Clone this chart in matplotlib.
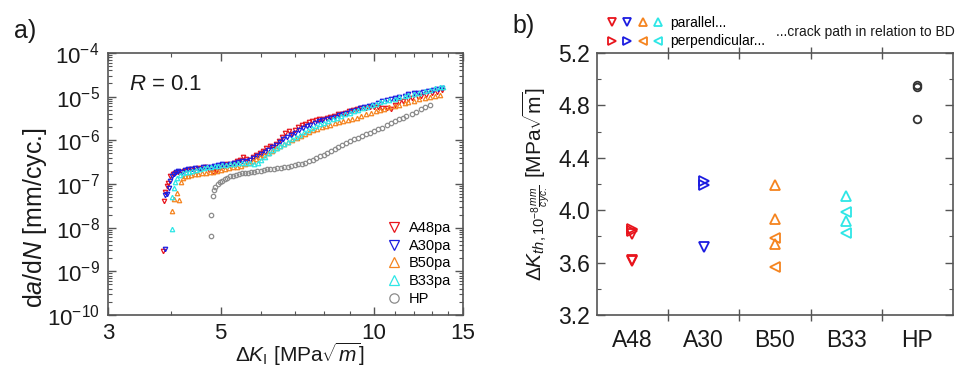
import numpy as np
import matplotlib
matplotlib.use("Agg")
from matplotlib import pyplot as plt
from matplotlib.lines import Line2D
from matplotlib.legend_handler import HandlerTuple
from matplotlib.ticker import FixedLocator, NullFormatter, FixedFormatter, LogLocator

plt.rcParams['font.family'] = ['Liberation Sans', 'DejaVu Sans']
plt.rcParams['mathtext.fontset'] = 'custom'
plt.rcParams['mathtext.rm'] = 'Liberation Sans'
plt.rcParams['mathtext.it'] = 'Liberation Sans:italic'
plt.rcParams['mathtext.bf'] = 'Liberation Sans:bold'

# ---- panel a: da/dN vs dK ----
a48_dk = [3.85, 3.86, 3.89, 3.92, 3.94, 3.98, 4.02, 4.07, 4.12, 4.18, 4.24, 4.30, 4.37, 4.44,
          4.51, 4.58, 4.66, 4.74, 4.82, 4.90, 4.98, 5.06, 5.14, 5.22, 5.30, 5.38, 5.46, 5.54,
          5.62, 5.70, 5.79, 5.88, 5.97, 6.06, 6.15, 6.24, 6.33, 6.42, 6.51, 6.60, 6.70, 6.80,
          6.90, 7.00, 7.11, 7.22, 7.33, 7.45, 7.57, 7.69, 7.82, 7.95, 8.08, 8.22, 8.36, 8.50,
          8.65, 8.80, 8.96, 9.12, 9.29, 9.46, 9.64, 9.82, 10.0, 10.2, 10.4, 10.6, 10.8, 11.0,
          11.2, 11.4, 11.7, 11.9, 12.2, 12.4, 12.7, 13.0, 13.3, 13.6]
a48_dadn = [2.9e-9, 4.0e-8, 6.5e-8, 9.0e-8, 1.05e-7, 1.5e-7, 1.7e-7, 1.8e-7, 1.9e-7, 1.85e-7,
            2.0e-7, 2.1e-7, 2.2e-7, 2.1e-7, 2.3e-7, 2.2e-7, 2.4e-7, 2.1e-7, 1.9e-7, 2.0e-7,
            2.3e-7, 2.6e-7, 2.8e-7, 2.7e-7, 3.0e-7, 3.3e-7, 3.6e-7, 4.1e-7, 3.8e-7, 3.5e-7,
            4.2e-7, 4.6e-7, 5.0e-7, 5.8e-7, 6.5e-7, 7.3e-7, 7.0e-7, 8.2e-7, 9.5e-7, 1.2e-6,
            1.5e-6, 1.6e-6, 1.4e-6, 1.7e-6, 2.0e-6, 2.2e-6, 2.4e-6, 2.6e-6, 2.7e-6, 2.9e-6,
            3.0e-6, 3.1e-6, 3.3e-6, 3.4e-6, 3.6e-6, 3.9e-6, 4.1e-6, 4.3e-6, 4.6e-6, 4.9e-6,
            5.2e-6, 5.4e-6, 5.6e-6, 5.8e-6, 5.8e-6, 5.9e-6, 5.6e-6, 5.4e-6, 5.2e-6, 6.6e-6,
            7.4e-6, 8.0e-6, 8.6e-6, 9.1e-6, 9.7e-6, 1.03e-5, 1.1e-5, 1.2e-5, 1.3e-5, 1.4e-5]

a30_dk = [3.88, 3.89, 3.92, 3.95, 3.98, 4.01, 4.05, 4.09, 4.13, 4.19, 4.25, 4.32, 4.39, 4.46,
          4.54, 4.62, 4.70, 4.78, 4.86, 4.95, 5.04, 5.13, 5.22, 5.31, 5.40, 5.50, 5.60, 5.70,
          5.80, 5.90, 6.00, 6.10, 6.20, 6.31, 6.42, 6.53, 6.64, 6.76, 6.88, 7.00, 7.12, 7.25,
          7.38, 7.51, 7.65, 7.79, 7.93, 8.08, 8.23, 8.38, 8.54, 8.70, 8.87, 9.04, 9.21, 9.39,
          9.58, 9.77, 9.96, 10.2, 10.4, 10.6, 10.8, 11.0, 11.2, 11.5, 11.7, 12.0, 12.2, 12.5,
          12.8, 13.1, 13.4, 13.6]
a30_dadn = [3.2e-9, 5.5e-8, 5.8e-8, 8.0e-8, 1.2e-7, 1.5e-7, 1.7e-7, 1.9e-7, 2.0e-7, 1.9e-7,
            2.05e-7, 2.15e-7, 2.2e-7, 2.3e-7, 2.25e-7, 2.4e-7, 2.5e-7, 2.45e-7, 2.6e-7, 2.7e-7,
            2.8e-7, 2.75e-7, 2.9e-7, 3.1e-7, 3.2e-7, 3.3e-7, 3.4e-7, 3.6e-7, 3.9e-7, 4.3e-7,
            4.8e-7, 5.4e-7, 6.1e-7, 7.0e-7, 8.0e-7, 9.2e-7, 1.05e-6, 1.2e-6, 1.35e-6, 1.5e-6,
            1.7e-6, 1.9e-6, 2.1e-6, 2.3e-6, 2.5e-6, 2.7e-6, 2.9e-6, 3.1e-6, 3.3e-6, 3.5e-6,
            3.7e-6, 4.0e-6, 4.3e-6, 4.6e-6, 5.0e-6, 5.4e-6, 5.9e-6, 6.2e-6, 6.6e-6, 7.2e-6,
            7.8e-6, 8.3e-6, 8.7e-6, 9.1e-6, 9.6e-6, 1.05e-5, 1.12e-5, 1.2e-5, 1.24e-5, 1.3e-5,
            1.36e-5, 1.42e-5, 1.5e-5, 1.58e-5]

b50_dk = [4.01, 4.05, 4.10, 4.14, 4.17, 4.21, 4.26, 4.32, 4.38, 4.45, 4.52, 4.60, 4.68, 4.76,
          4.84, 4.92, 5.01, 5.10, 5.19, 5.28, 5.38, 5.48, 5.58, 5.68, 5.78, 5.88, 5.98, 6.09,
          6.20, 6.31, 6.43, 6.55, 6.67, 6.79, 6.92, 7.05, 7.18, 7.32, 7.46, 7.60, 7.75, 7.90,
          8.06, 8.22, 8.38, 8.55, 8.72, 8.90, 9.08, 9.27, 9.46, 9.66, 9.86, 10.1, 10.3, 10.5,
          10.7, 11.0, 11.2, 11.5, 11.7, 12.0, 12.3, 12.6, 12.9, 13.2, 13.5]
b50_dadn = [2.4e-8, 4.5e-8, 6.3e-8, 4.4e-8, 1.1e-7, 1.4e-7, 1.5e-7, 1.55e-7, 1.6e-7, 1.65e-7,
            1.7e-7, 1.75e-7, 1.8e-7, 1.85e-7, 1.9e-7, 2.0e-7, 2.1e-7, 2.2e-7, 2.3e-7, 2.4e-7,
            2.5e-7, 2.6e-7, 2.8e-7, 3.0e-7, 3.3e-7, 3.7e-7, 4.1e-7, 4.6e-7, 5.2e-7, 5.8e-7,
            6.5e-7, 7.3e-7, 8.1e-7, 9.0e-7, 1.0e-6, 1.1e-6, 1.25e-6, 1.4e-6, 1.55e-6, 1.7e-6,
            1.85e-6, 2.0e-6, 2.15e-6, 2.3e-6, 2.45e-6, 2.6e-6, 2.75e-6, 2.9e-6, 3.1e-6, 3.3e-6,
            3.6e-6, 3.9e-6, 4.2e-6, 4.6e-6, 5.0e-6, 5.3e-6, 5.7e-6, 6.1e-6, 6.5e-6, 7.0e-6,
            7.5e-6, 8.0e-6, 8.6e-6, 9.2e-6, 9.8e-6, 1.05e-5, 1.1e-5]

b33_dk = [4.01, 4.01, 4.04, 4.07, 4.11, 4.16, 4.21, 4.27, 4.33, 4.40, 4.47, 4.55, 4.63, 4.71,
          4.79, 4.87, 4.95, 5.04, 5.13, 5.22, 5.31, 5.41, 5.51, 5.61, 5.71, 5.81, 5.91, 6.01,
          6.11, 6.22, 6.33, 6.44, 6.55, 6.67, 6.79, 6.91, 7.03, 7.16, 7.29, 7.42, 7.56, 7.70,
          7.84, 7.99, 8.14, 8.30, 8.46, 8.62, 8.79, 8.97, 9.15, 9.33, 9.52, 9.71, 9.91, 10.1,
          10.3, 10.5, 10.7, 11.0, 11.2, 11.5, 11.7, 12.0, 12.3, 12.6, 12.9, 13.2, 13.5, 13.7]
b33_dadn = [9.3e-9, 5.0e-8, 8.0e-8, 1.1e-7, 1.4e-7, 1.6e-7, 1.75e-7, 1.85e-7, 1.9e-7, 2.0e-7,
            2.1e-7, 2.2e-7, 2.3e-7, 2.4e-7, 2.5e-7, 2.6e-7, 2.6e-7, 2.7e-7, 2.75e-7, 2.8e-7,
            2.9e-7, 3.0e-7, 2.95e-7, 3.1e-7, 3.0e-7, 2.9e-7, 3.0e-7, 3.5e-7, 4.2e-7, 5.0e-7,
            5.9e-7, 6.8e-7, 7.6e-7, 8.4e-7, 9.3e-7, 1.05e-6, 1.2e-6, 1.35e-6, 1.55e-6, 1.75e-6,
            1.95e-6, 2.15e-6, 2.35e-6, 2.55e-6, 2.8e-6, 3.0e-6, 3.3e-6, 3.6e-6, 3.9e-6, 4.2e-6,
            4.6e-6, 5.0e-6, 5.4e-6, 5.9e-6, 6.4e-6, 6.9e-6, 7.4e-6, 7.9e-6, 8.4e-6, 9.0e-6,
            9.6e-6, 1.02e-5, 1.08e-5, 1.15e-5, 1.23e-5, 1.32e-5, 1.42e-5, 1.55e-5, 1.65e-5, 1.7e-5]

hp_dk = [4.78, 4.78, 4.82, 4.85, 4.88, 4.93, 4.98, 5.03, 5.09, 5.15, 5.22, 5.29, 5.36, 5.43,
         5.51, 5.58, 5.66, 5.74, 5.82, 5.90, 5.99, 6.08, 6.17, 6.26, 6.36, 6.46, 6.56, 6.66,
         6.77, 6.88, 6.99, 7.10, 7.22, 7.34, 7.46, 7.58, 7.71, 7.84, 7.97, 8.10, 8.24, 8.38,
         8.52, 8.67, 8.82, 8.98, 9.14, 9.30, 9.47, 9.64, 9.82, 10.0, 10.2, 10.4, 10.6, 10.8,
         11.0, 11.2, 11.4, 11.6, 11.9, 12.1, 12.4, 12.6, 12.9]
hp_dadn = [6.3e-9, 2.0e-8, 5.4e-8, 7.4e-8, 8.7e-8, 1.0e-7, 1.1e-7, 1.2e-7, 1.3e-7, 1.4e-7,
           1.5e-7, 1.55e-7, 1.6e-7, 1.7e-7, 1.75e-7, 1.8e-7, 1.75e-7, 1.85e-7, 1.9e-7, 1.95e-7,
           2.0e-7, 2.1e-7, 2.15e-7, 2.2e-7, 2.2e-7, 2.3e-7, 2.35e-7, 2.4e-7, 2.5e-7, 2.6e-7,
           2.7e-7, 2.8e-7, 2.9e-7, 3.1e-7, 3.3e-7, 3.6e-7, 3.9e-7, 4.3e-7, 4.7e-7, 5.2e-7,
           5.7e-7, 6.3e-7, 7.0e-7, 7.8e-7, 8.6e-7, 9.6e-7, 1.05e-6, 1.15e-6, 1.25e-6, 1.4e-6,
           1.5e-6, 1.65e-6, 1.8e-6, 1.95e-6, 2.2e-6, 2.45e-6, 2.7e-6, 3.0e-6, 3.3e-6, 3.6e-6,
           4.0e-6, 4.5e-6, 5.1e-6, 5.8e-6, 6.6e-6]

# ---- panel b: threshold values ----
categories = ["A48", "A30", "B50", "B33", "HP"]
a48_par = [3.62, 3.61, 3.82]
a48_perp = [3.86, 3.84]
a30_par = [3.72]
a30_perp = [4.22, 4.19]
b50_par = [4.19, 3.93, 3.74]
b50_perp = [3.785, 3.57]
b33_par = [4.11, 3.92]
b33_perp = [3.985, 3.825]
hp_vals = [4.955, 4.94, 4.695]

RED = '#e8141c'
BLUE = '#1c1ce0'
ORANGE = '#f5841f'
CYAN = '#2ee6e6'
GRAY = '#8c8c8c'
SPINE = '#555555'

fig = plt.figure(figsize=(9.55, 3.67), dpi=100)
ax1 = fig.add_axes([0.113, 0.1417, 0.372, 0.714])
ax2 = fig.add_axes([0.625, 0.1417, 0.373, 0.714])

# panel a
series = [(a48_dk, a48_dadn, 'v', RED, 'A48pa'),
          (a30_dk, a30_dadn, 'v', BLUE, 'A30pa'),
          (b50_dk, b50_dadn, '^', ORANGE, 'B50pa'),
          (b33_dk, b33_dadn, '^', CYAN, 'B33pa'),
          (hp_dk, hp_dadn, 'o', GRAY, 'HP')]
for dk, dadn, m, c, lab in series:
    ax1.plot(dk, dadn, ls='none', marker=m, ms=3.2, mfc='none', mec=c, mew=0.9, label=lab)

ax1.set_xscale('log')
ax1.set_yscale('log')
ax1.set_xlim(3, 15)
ax1.set_ylim(1e-10, 1e-4)
ax1.xaxis.set_major_locator(FixedLocator([3, 5, 10, 15]))
ax1.xaxis.set_major_formatter(FixedFormatter(['3', '5', '10', '15']))
ax1.xaxis.set_minor_locator(FixedLocator([4, 6, 7, 8, 9, 11, 12, 13, 14]))
ax1.xaxis.set_minor_formatter(NullFormatter())
ax1.yaxis.set_major_locator(LogLocator(base=10, numticks=10))
ax1.yaxis.set_minor_locator(LogLocator(base=10, subs=np.arange(2, 10), numticks=10))
ax1.yaxis.set_minor_formatter(NullFormatter())
ax1.tick_params(which='both', direction='in', top=True, right=True, colors=SPINE,
                labelcolor='#1a1a1a')
ax1.tick_params(which='major', length=6, width=1, labelsize=16, pad=6)
ax1.tick_params(which='minor', length=3, width=0.8)
for s in ax1.spines.values():
    s.set_color(SPINE)
    s.set_linewidth(1.2)

ax1.set_xlabel(r'$\Delta K_\mathrm{I}$ [MPa$\sqrt{m}$]', fontsize=15, color='#1a1a1a')
ax1.xaxis.set_label_coords(0.54, -0.1)
ax1.set_ylabel(r'd$a$/d$N$ [mm/cyc.]', fontsize=18, color='#1a1a1a')
ax1.yaxis.set_label_coords(-0.165, 0.37)
ax1.text(0.06, 0.88, r'$R$ = 0.1', transform=ax1.transAxes, fontsize=16,
         va='center', ha='left', color='#1a1a1a')
ax1.legend(loc='lower right', bbox_to_anchor=(0.97, 0.03), frameon=False, fontsize=10.5,
           markerscale=2.1, handlelength=1.0, handletextpad=0.5, labelspacing=0.25,
           borderaxespad=0, borderpad=0.1)

# panel b
groups = [(a48_par, a48_perp, 'v', '>', RED),
          (a30_par, a30_perp, 'v', '>', BLUE),
          (b50_par, b50_perp, '^', '<', ORANGE),
          (b33_par, b33_perp, '^', '<', CYAN)]
for i, (par, perp, mpar, mperp, c) in enumerate(groups):
    ax2.plot([i] * len(par), par, ls='none', marker=mpar, ms=7, mfc='none', mec=c, mew=1.3)
    ax2.plot([i] * len(perp), perp, ls='none', marker=mperp, ms=7, mfc='none', mec=c, mew=1.3)
ax2.plot([4] * len(hp_vals), hp_vals, ls='none', marker='o', ms=5.5, mfc='none',
         mec='#333333', mew=1.3)

ax2.set_xlim(-0.5, 4.5)
ax2.set_ylim(3.2, 5.2)
ax2.set_xticks(range(len(categories)))
ax2.set_xticklabels(categories)
ax2.xaxis.set_minor_locator(FixedLocator([0.5, 1.5, 2.5, 3.5]))
ax2.set_yticks([3.2, 3.6, 4.0, 4.4, 4.8, 5.2])
ax2.yaxis.set_minor_locator(FixedLocator([3.4, 3.8, 4.2, 4.6, 5.0]))
ax2.tick_params(which='both', top=True, right=True, colors=SPINE, labelcolor='#1a1a1a')
ax2.tick_params(axis='x', which='major', length=0, labelsize=16.5, pad=10)
ax2.tick_params(axis='x', which='minor', direction='inout', length=9, width=1)
ax2.tick_params(axis='y', which='major', direction='in', length=6, width=1,
                labelsize=16.5, pad=5)
ax2.tick_params(axis='y', which='minor', direction='in', length=3, width=0.8)
for s in ax2.spines.values():
    s.set_color(SPINE)
    s.set_linewidth(1.2)
ax2.set_ylabel(r'$\Delta K_{th,10^{-8}\frac{mm}{cyc.}}$ [MPa$\sqrt{\mathrm{m}}$]',
               fontsize=15, color='#1a1a1a')
ax2.yaxis.set_label_coords(-0.125, 0.5)

# orientation key above panel b
par_h = tuple(Line2D([], [], ls='none', marker=g[2], ms=6, mfc='none', mec=g[4], mew=1.3)
              for g in groups)
perp_h = tuple(Line2D([], [], ls='none', marker=g[3], ms=6, mfc='none', mec=g[4], mew=1.3)
               for g in groups)
fig.legend([par_h, perp_h], ['parallel...', 'perpendicular...'],
           handler_map={tuple: HandlerTuple(ndivide=None, pad=0)},
           loc='center left', bbox_to_anchor=(0.633, 0.912), frameon=False, fontsize=10,
           handlelength=4.4, handletextpad=0.3, labelspacing=0.3, borderpad=0,
           borderaxespad=0)
fig.text(0.813, 0.912, '...crack path in relation to BD', fontsize=10, va='center',
         ha='left', color='#1a1a1a')

fig.text(0.026, 0.915, 'a)', fontsize=18, va='center', ha='center', color='#1a1a1a')
fig.text(0.548, 0.93, 'b)', fontsize=18, va='center', ha='center', color='#1a1a1a')

plt.savefig('out.png', dpi=100)
